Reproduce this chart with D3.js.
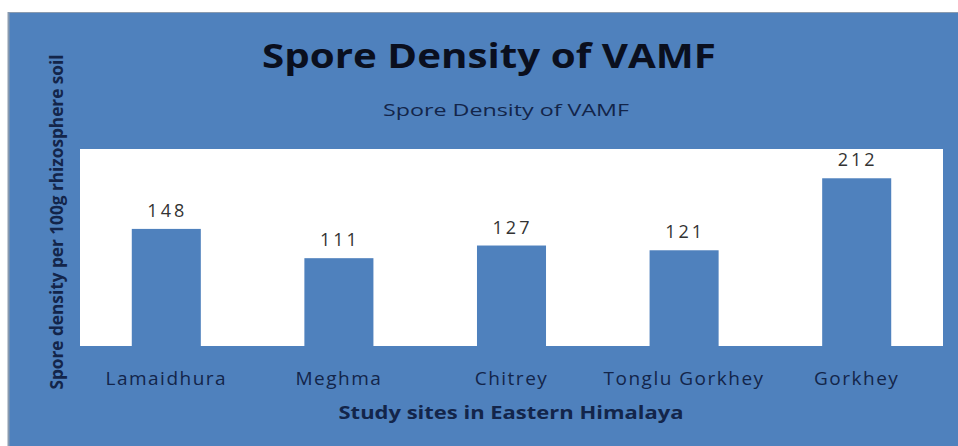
<!DOCTYPE html>
<html><head><meta charset="utf-8">
<script src="https://cdn.jsdelivr.net/npm/d3@7"></script>
<style>html,body{margin:0;padding:0;background:#fff;}svg{display:block;}</style>
</head><body><svg id="c" width="958" height="446"></svg>
<script>
const categories = ["Lamaidhura", "Meghma", "Chitrey", "Tonglu Gorkhey", "Gorkhey"];
const values = [148, 111, 127, 121, 212];
const chartTitle = "Spore Density of VAMF";
const subTitle = "Spore Density of VAMF";
const yTitle = "Spore density per 100g rhizosphere soil";
const xTitle = "Study sites in Eastern Himalaya";

const svg = d3.select("#c");
const blue = "#4f81bd", navy = "#13254a";
const font = "'Open Sans', 'Noto Sans', sans-serif";

svg.append("rect").attr("x", 8).attr("y", 12).attr("width", 950).attr("height", 434)
  .attr("fill", blue);
svg.append("line").attr("x1", 8.5).attr("x2", 8.5).attr("y1", 12).attr("y2", 446).attr("stroke", "#8a9bb0").attr("stroke-width", 2);
svg.append("line").attr("x1", 8).attr("x2", 958).attr("y1", 12.5).attr("y2", 12.5).attr("stroke", "#8a9bb0").attr("stroke-width", 1);

const plot = {left: 80, right: 943, top: 149, bottom: 346};
svg.append("rect").attr("x", plot.left).attr("y", plot.top)
  .attr("width", plot.right - plot.left).attr("height", plot.bottom - plot.top).attr("fill", "#fff");

const x = d3.scaleBand().domain(categories).range([plot.left, plot.right]).paddingInner(0.6).paddingOuter(0.3);
const y = d3.scaleLinear().domain([0, 249]).range([plot.bottom, plot.top]);

svg.selectAll("rect.bar").data(values).join("rect").attr("class", "bar")
  .attr("x", (d, i) => x(categories[i])).attr("width", x.bandwidth())
  .attr("y", d => y(d)).attr("height", d => y(0) - y(d)).attr("fill", blue);

svg.selectAll("text.val").data(values).join("text").attr("class", "val")
  .attr("x", (d, i) => x(categories[i]) + x.bandwidth() / 2 + 1).attr("y", d => y(d) - 12)
  .attr("text-anchor", "middle").attr("font-family", font).attr("font-size", 18)
  .attr("letter-spacing", 3).attr("fill", "#333").text(d => d);

const xAxis = d3.axisBottom(x).tickSize(0).tickPadding(0);
const gx = svg.append("g").attr("transform", `translate(0,${plot.bottom})`).call(xAxis);
gx.select(".domain").remove();
gx.selectAll("text").attr("font-family", font).attr("font-size", 19).attr("fill", navy)
  .attr("dy", null).attr("y", 39).attr("letter-spacing", 1.5);

svg.append("text").attr("x", 489).attr("y", 68).attr("text-anchor", "middle")
  .attr("font-family", font).attr("font-weight", "bold").attr("font-size", 34)
  .attr("fill", "#0a0f1e").attr("textLength", 454).attr("lengthAdjust", "spacingAndGlyphs").text(chartTitle);
svg.append("text").attr("x", 506).attr("y", 116).attr("text-anchor", "middle")
  .attr("font-family", font).attr("font-size", 16).attr("fill", navy)
  .attr("textLength", 246).attr("lengthAdjust", "spacingAndGlyphs").text(subTitle);
svg.append("text").attr("transform", "translate(63,222) rotate(-90)").attr("text-anchor", "middle")
  .attr("font-family", font).attr("font-weight", "bold").attr("font-size", 17).attr("fill", navy)
  .attr("textLength", 335).attr("lengthAdjust", "spacingAndGlyphs").text(yTitle);
svg.append("text").attr("x", 511).attr("y", 419).attr("text-anchor", "middle")
  .attr("font-family", font).attr("font-weight", "bold").attr("font-size", 18).attr("fill", navy)
  .attr("textLength", 345).attr("lengthAdjust", "spacingAndGlyphs").text(xTitle);
</script></body></html>
